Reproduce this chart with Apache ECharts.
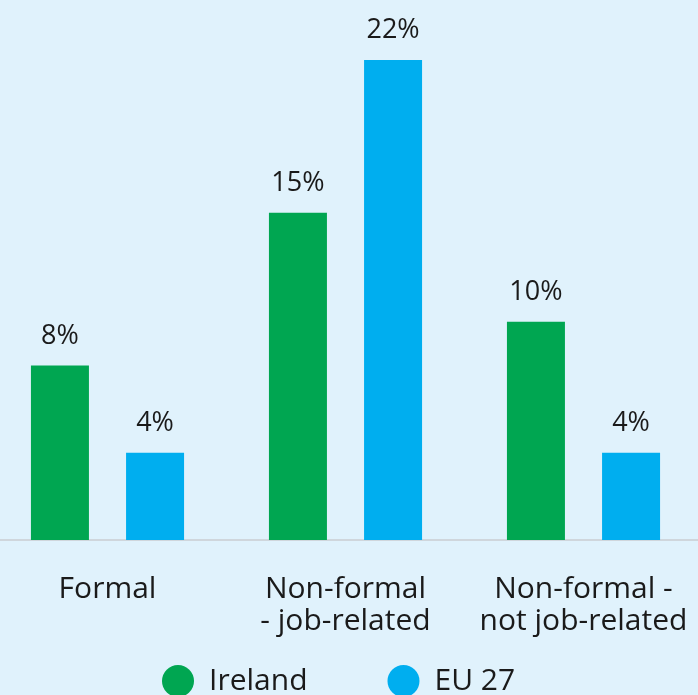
<!DOCTYPE html>
<html>
<head>
<meta charset="utf-8">
<script src="https://cdn.jsdelivr.net/npm/echarts@6/dist/echarts.min.js"></script>
<style>
  html, body { margin: 0; padding: 0; background: #e0f2fc; overflow: hidden; }
  #chart { width: 698px; height: 695px; }
</style>
</head>
<body>
<div id="chart"></div>
<script>
// Participation in learning by type, Ireland vs EU 27 (%)
const categories = ['Formal', 'Non-formal\n- job-related', 'Non-formal -\nnot job-related'];
const irelandValues = [8, 15, 10];
const eu27Values = [4, 22, 4];
const seriesNames = ['Ireland', 'EU 27'];

const FONT = '"Open Sans", "DejaVu Sans", sans-serif';
const TEXT = '#1a1a1a';

const valueLabel = {
  show: true,
  position: 'top',
  distance: 16,
  formatter: p => p.value + '%',
  fontFamily: FONT,
  fontSize: 27,
  color: TEXT
};

const chart = echarts.init(document.getElementById('chart'));
chart.setOption({
  backgroundColor: '#e0f2fc',
  animation: false,
  textStyle: { fontFamily: FONT },
  grid: {
    left: -11.5, right: -4.5, top: 60, bottom: 155,
    containLabel: false,
    outerBoundsMode: 'none'
  },
  legend: {
    data: seriesNames,
    left: 162,
    top: 665,
    padding: 0,
    icon: 'circle',
    itemWidth: 32,
    itemHeight: 32,
    itemGap: 80,
    textStyle: {
      fontFamily: FONT,
      fontSize: 30,
      lineHeight: 32,
      color: TEXT,
      padding: [0, 0, 0, 10]
    }
  },
  xAxis: {
    type: 'category',
    data: categories,
    axisLine: { show: true, lineStyle: { color: '#cfd6dc', width: 2 } },
    axisTick: { show: false },
    axisLabel: {
      margin: 33,
      fontFamily: FONT,
      fontSize: 30,
      lineHeight: 32,
      color: TEXT,
      interval: 0
    }
  },
  yAxis: {
    type: 'value',
    min: 0,
    max: 22,
    show: false,
    splitLine: { show: false }
  },
  series: [
    {
      name: seriesNames[0],
      type: 'bar',
      data: irelandValues,
      barWidth: 58,
      barGap: '64%',
      itemStyle: { color: '#00a651' },
      label: valueLabel
    },
    {
      name: seriesNames[1],
      type: 'bar',
      data: eu27Values,
      barWidth: 58,
      barGap: '64%',
      itemStyle: { color: '#00aeef' },
      label: valueLabel
    }
  ]
});
</script>
</body>
</html>
